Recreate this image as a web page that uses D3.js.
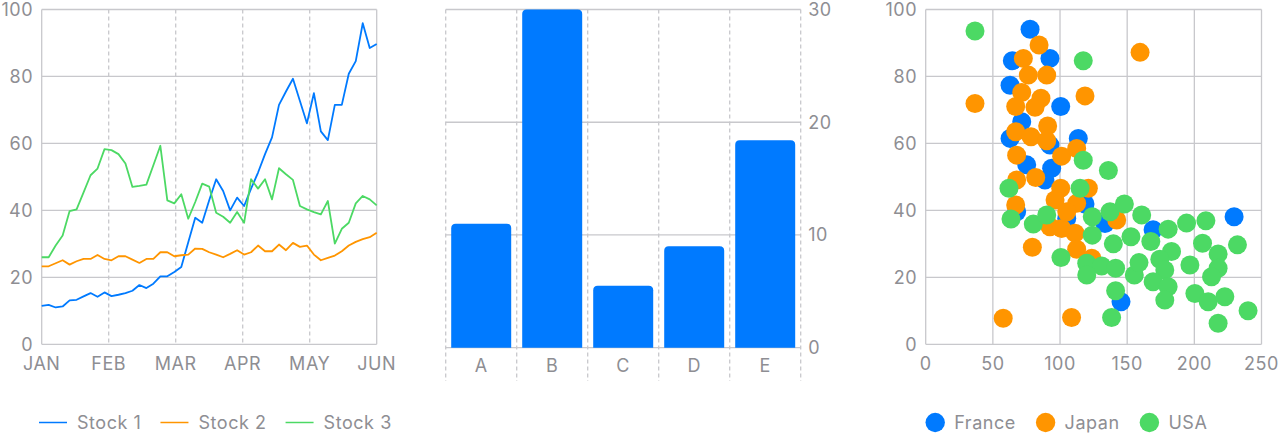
<!DOCTYPE html>
<html>
<head>
<meta charset="utf-8">
<script src="https://cdn.jsdelivr.net/npm/d3@7"></script>
<style>
  html, body { margin: 0; padding: 0; background: #fff; }
  svg { display: block; }
  text { font-family: Inter, "Noto Sans", sans-serif; letter-spacing: 0.55px; }
</style>
</head>
<body>
<svg id="chart" width="1280" height="433"></svg>
<script>
// ---------- DATA ----------
const months = ["JAN", "FEB", "MAR", "APR", "MAY", "JUN"];
const stockNames = ["Stock 1", "Stock 2", "Stock 3"];
const stock1 = [11.5, 11.8, 11, 11.3, 13.1, 13.3, 14.3, 15.3, 14.2, 15.5, 14.4, 14.8, 15.3, 16, 17.7, 16.8, 18.1, 20.3, 20.3, 21.6, 23.1, 30.5, 37.8, 36.3, 43, 49.3, 45.8, 40, 43.8, 41.3, 46.5, 51.3, 56.8, 61.8, 71.5, 75.5, 79.3, 72.7, 66, 75, 63.6, 61, 71.5, 71.5, 80.8, 84.6, 95.9, 88.5, 89.7];
const stock2 = [23.3, 23.3, 24.2, 25.1, 23.8, 24.8, 25.5, 25.5, 26.7, 25.5, 25.1, 26.3, 26.3, 25.3, 24.3, 25.5, 25.5, 27.5, 27.5, 26.3, 26.6, 26.8, 28.6, 28.5, 27.5, 26.8, 26, 27, 28.1, 26.8, 27.5, 29.5, 27.8, 27.8, 29.8, 28.1, 30.3, 29.1, 29.5, 26.8, 25.1, 25.8, 26.5, 27.8, 29.5, 30.6, 31.4, 32, 33.3];
const stock3 = [26, 26, 29.5, 32.5, 39.8, 40.3, 45.4, 50.5, 52.5, 58.3, 58, 56.8, 54, 47, 47.3, 47.7, 53.5, 59.3, 43, 42.1, 44.8, 37.5, 42.5, 48, 47.1, 39.3, 38.1, 36.3, 39.5, 36.3, 49.3, 46.5, 49.3, 43.3, 52.6, 50.8, 49.1, 41.3, 40.3, 39.5, 38.8, 42.8, 30.1, 34.5, 36.3, 42.1, 44.3, 43.3, 41.5];
const lineTicks = [0, 20, 40, 60, 80, 100];

const barCategories = ["A", "B", "C", "D", "E"];
const barValues = [11, 30, 5.5, 9, 18.4];
const barTicks = [0, 10, 20, 30];

const scatterNames = ["France", "Japan", "USA"];
const franceX = [77.7, 64.5, 92.5, 62.8, 100.5, 71.5, 62.8, 113.6, 92.5, 75.2, 93.8, 88.8, 118.6, 67.7, 105, 133.5, 145.4, 169.3, 229.6];
const franceY = [94.1, 84.7, 85.4, 77.4, 71, 66.5, 61.5, 61.5, 59.5, 53.6, 52.6, 49.1, 41.9, 39.6, 37.6, 36.1, 12.7, 34.2, 38.1];
const japanX = [84.4, 72.7, 76.4, 90.1, 118.6, 71.5, 85.8, 67, 81.4, 90.8, 67, 78.4, 90.1, 67.7, 101.2, 112.4, 67.7, 81.9, 100.5, 121.1, 67, 96.3, 112.4, 105, 92.5, 101.2, 111.2, 142.2, 79.4, 112.4, 123.6, 57.7, 108.6, 159.6, 36.7];
const japanY = [89.4, 85.4, 80.4, 80.4, 74.2, 75.2, 73.5, 71, 70.8, 65.2, 63.5, 62, 60.8, 56.5, 56.2, 58.5, 49.1, 49.8, 46.6, 46.6, 41.6, 43.1, 42.1, 39.6, 35.1, 34.6, 33.2, 37.1, 29, 28.4, 25.7, 7.8, 8, 87.2, 71.9];
const usaX = [36.7, 117.3, 117.3, 136, 62, 114.9, 63.5, 80.1, 90.1, 124, 137.2, 147.9, 160.8, 124, 139.7, 152.8, 100.7, 119.9, 131, 141.4, 119.9, 155.3, 141.4, 138.4, 158.8, 180.5, 194.2, 208.6, 167.6, 183, 206.1, 232.1, 174.3, 178, 196.7, 217.7, 217.7, 212.8, 169.3, 180.5, 200.4, 210.3, 222.7, 178, 240, 217.7];
const usaY = [93.6, 84.7, 55, 51.9, 46.6, 46.6, 37.4, 35.9, 38.6, 38.1, 39.6, 41.9, 38.6, 32.6, 30, 32.1, 25.9, 24.2, 23.4, 22.7, 20.7, 20.7, 16, 8, 24.4, 34.4, 36.2, 36.9, 30.7, 27.7, 30.2, 29.7, 25.4, 22.2, 23.7, 27, 22.7, 20.2, 18.7, 17.2, 15.2, 12.7, 14.2, 13.2, 10, 6.3];
const scatterXTicks = [0, 50, 100, 150, 200, 250];
const scatterYTicks = [0, 20, 40, 60, 80, 100];

// ---------- STYLE ----------
const BLUE = "#007AFF", ORANGE = "#FF9500", GREEN = "#4CD964";
const GRID = "#c8c8cc", LABEL = "#8e8e93";
const FONT_SIZE = 18;

const svg = d3.select("#chart");

// ---------- LEFT: LINE CHART ----------
(function () {
  const L = 41.7, R = 376.7, T = 9.5, B = 344.3;
  const n = stock1.length;
  const x = d3.scaleLinear().domain([0, n - 1]).range([L, R]);
  const y = d3.scaleLinear().domain([0, 100]).range([B, T]);
  const monthPos = months.map((m, k) => k * (n - 1) / (months.length - 1));
  const g = svg.append("g");

  g.selectAll(".vg").data(monthPos.slice(1, -1)).join("line")
    .attr("x1", d => x(d)).attr("x2", d => x(d))
    .attr("y1", T).attr("y2", B)
    .attr("stroke", GRID).attr("stroke-width", 1.3).attr("stroke-dasharray", "4,3");
  g.selectAll(".hg").data(lineTicks).join("line")
    .attr("x1", L).attr("x2", R)
    .attr("y1", d => y(d)).attr("y2", d => y(d))
    .attr("stroke", GRID).attr("stroke-width", 1.3);
  g.append("line").attr("x1", L).attr("x2", L).attr("y1", T).attr("y2", B)
    .attr("stroke", GRID).attr("stroke-width", 1.3);
  g.append("line").attr("x1", R).attr("x2", R).attr("y1", T).attr("y2", B)
    .attr("stroke", GRID).attr("stroke-width", 1.3);

  g.selectAll(".yl").data(lineTicks).join("text")
    .attr("x", L - 8.5).attr("y", d => y(d)).attr("dy", "0.35em")
    .attr("text-anchor", "end").attr("fill", LABEL).attr("font-size", FONT_SIZE)
    .text(d => d);
  g.selectAll(".xl").data(months).join("text")
    .attr("x", (d, k) => x(monthPos[k])).attr("y", 364).attr("dy", "0.35em")
    .attr("text-anchor", "middle").attr("fill", LABEL).attr("font-size", FONT_SIZE)
    .text(d => d);

  const line = d3.line().x((d, i) => x(i)).y(d => y(d));
  const series = [stock1, stock2, stock3];
  const colors = [BLUE, ORANGE, GREEN];
  series.forEach((s, k) => {
    g.append("path").datum(s).attr("d", line)
      .attr("fill", "none").attr("stroke", colors[k]).attr("stroke-width", 1.8)
      .attr("stroke-linejoin", "round");
  });

  let lx = 39;
  const ly = 422.5;
  stockNames.forEach((name, k) => {
    g.append("line").attr("x1", lx).attr("x2", lx + 28).attr("y1", ly).attr("y2", ly)
      .attr("stroke", colors[k]).attr("stroke-width", 1.5);
    const t = g.append("text").attr("x", lx + 38).attr("y", ly).attr("dy", "0.35em")
      .attr("fill", LABEL).attr("font-size", FONT_SIZE).text(name);
    lx += 38 + t.node().getComputedTextLength() + 19;
  });
})();

// ---------- MIDDLE: BAR CHART ----------
(function () {
  const L = 445.7, R = 800.7, T = 9.5, B = 347.7;
  const x = d3.scaleBand().domain(barCategories).range([L, R]).paddingInner(0.155).paddingOuter(0.0775);
  const band = d3.scaleBand().domain(barCategories).range([L, R]);
  const y = d3.scaleLinear().domain([0, 30]).range([B, T]);
  const g = svg.append("g");

  const edges = barCategories.map(c => band(c)).concat([R]);
  g.selectAll(".vg").data(edges).join("line")
    .attr("x1", d => d).attr("x2", d => d)
    .attr("y1", T).attr("y2", 381)
    .attr("stroke", GRID).attr("stroke-width", 1.3).attr("stroke-dasharray", "4,3");
  g.selectAll(".hg").data(barTicks).join("line")
    .attr("x1", L).attr("x2", R)
    .attr("y1", d => y(d)).attr("y2", d => y(d))
    .attr("stroke", GRID).attr("stroke-width", 1.3);

  const r = 4.5;
  g.selectAll(".bar").data(barValues).join("path")
    .attr("fill", BLUE)
    .attr("d", (d, i) => {
      const x0 = x(barCategories[i]), w = x.bandwidth();
      const y0 = y(d), y1 = y(0);
      return `M${x0},${y1}V${y0 + r}Q${x0},${y0} ${x0 + r},${y0}H${x0 + w - r}Q${x0 + w},${y0} ${x0 + w},${y0 + r}V${y1}Z`;
    });

  g.selectAll(".yl").data(barTicks).join("text")
    .attr("x", R + 7.5).attr("y", d => y(d)).attr("dy", "0.35em")
    .attr("text-anchor", "start").attr("fill", LABEL).attr("font-size", FONT_SIZE)
    .text(d => d);
  g.selectAll(".xl").data(barCategories).join("text")
    .attr("x", d => band(d) + band.bandwidth() / 2).attr("y", 365.5).attr("dy", "0.35em")
    .attr("text-anchor", "middle").attr("fill", LABEL).attr("font-size", FONT_SIZE)
    .text(d => d);
})();

// ---------- RIGHT: SCATTER ----------
(function () {
  const L = 925.7, R = 1261.5, T = 9.5, B = 344.3;
  const x = d3.scaleLinear().domain([0, 250]).range([L, R]);
  const y = d3.scaleLinear().domain([0, 100]).range([B, T]);
  const g = svg.append("g");

  g.selectAll(".vg").data(scatterXTicks).join("line")
    .attr("x1", d => x(d)).attr("x2", d => x(d)).attr("y1", T).attr("y2", B)
    .attr("stroke", GRID).attr("stroke-width", 1.3);
  g.selectAll(".hg").data(scatterYTicks).join("line")
    .attr("x1", L).attr("x2", R).attr("y1", d => y(d)).attr("y2", d => y(d))
    .attr("stroke", GRID).attr("stroke-width", 1.3);

  g.selectAll(".yl").data(scatterYTicks).join("text")
    .attr("x", L - 8.5).attr("y", d => y(d)).attr("dy", "0.35em")
    .attr("text-anchor", "end").attr("fill", LABEL).attr("font-size", FONT_SIZE)
    .text(d => d);
  g.selectAll(".xl").data(scatterXTicks).join("text")
    .attr("x", d => x(d)).attr("y", 364).attr("dy", "0.35em")
    .attr("text-anchor", "middle").attr("fill", LABEL).attr("font-size", FONT_SIZE)
    .text(d => d);

  const sets = [[franceX, franceY, BLUE], [japanX, japanY, ORANGE], [usaX, usaY, GREEN]];
  sets.forEach(([xs, ys, c]) => {
    g.append("g").selectAll("circle").data(xs).join("circle")
      .attr("cx", d => x(d)).attr("cy", (d, i) => y(ys[i])).attr("r", 9.5)
      .attr("fill", c);
  });

  let lx = 925.5;
  const ly = 422.5;
  scatterNames.forEach((name, k) => {
    g.append("circle").attr("cx", lx + 9.7).attr("cy", ly).attr("r", 9.7).attr("fill", sets[k][2]);
    const t = g.append("text").attr("x", lx + 28.7).attr("y", ly).attr("dy", "0.35em")
      .attr("fill", LABEL).attr("font-size", FONT_SIZE).text(name);
    lx += 28.7 + t.node().getComputedTextLength() + 20;
  });
})();
</script>
</body>
</html>
